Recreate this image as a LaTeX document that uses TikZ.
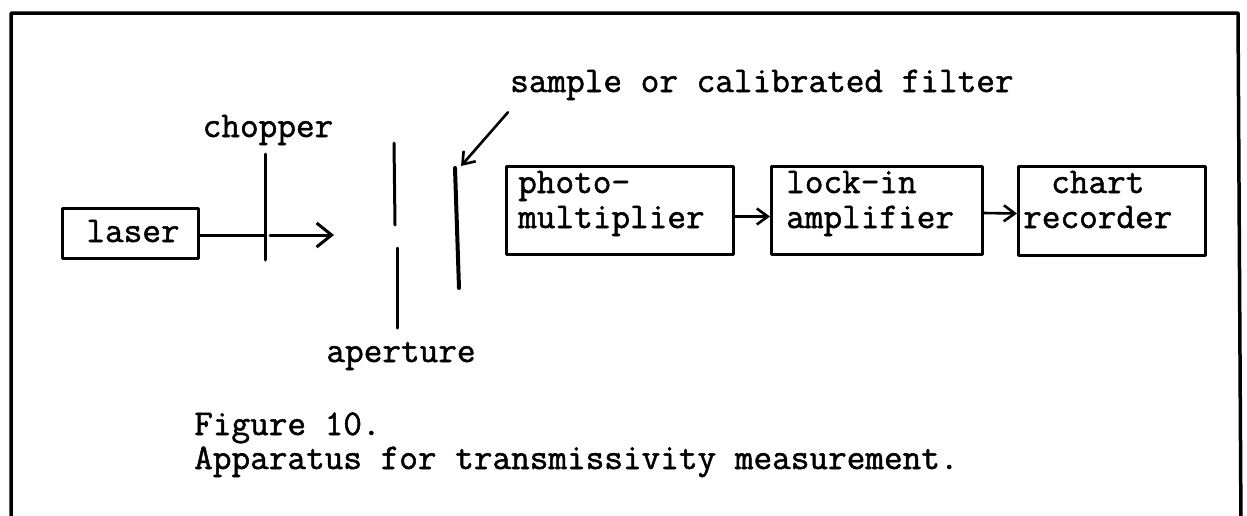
\documentclass[tikz,border=0pt]{standalone}
\usepackage{fontspec}
\setmonofont{Latin Modern Mono}[FakeBold=1.4]
\usetikzlibrary{arrows.meta}
\begin{document}
\begin{tikzpicture}[x=1pt,y=-1pt,line join=round,line cap=round,
  lbl/.style={font=\ttfamily\bfseries\fontsize{36.2}{35}\selectfont,inner sep=0pt},
  box/.style={draw,line width=3pt,inner sep=0pt},
  stroke/.style={line width=3pt},
  barb/.style={line width=2.6pt,-{Straight Barb[length=11pt,width=16pt]}},
  bigbarb/.style={line width=3pt,-{Straight Barb[length=15pt,width=24pt]}}]
\clip (0,0) rectangle (1247,515);
\fill[white] (0,0) rectangle (1247,515);

% open frame (bottom edge lies below the page)
\draw[line width=3.5pt] (11,530) -- (11,13) -- (1238,13) -- (1241,530);

% boxes
\node[box,minimum width=136pt,minimum height=50pt] (laser) at (130.5,233.5) {};
\node[box,minimum width=227pt,minimum height=88pt] (pm) at (620,210.5) {};
\node[box,minimum width=211pt,minimum height=88pt] (lockin) at (877,210.5) {};
\node[box,minimum width=187pt,minimum height=89pt] (chart) at (1112,211) {};

% box texts
\node[lbl,anchor=base] (lasertxt) at (133,242) {laser};
\node[lbl,anchor=base west] (pm1) at (518,193) {photo-};
\node[lbl,anchor=base west] (pm2) at (518,228) {multiplier};
\node[lbl,anchor=base west] (li1) at (786,193) {lock-in};
\node[lbl,anchor=base west] (li2) at (786,228) {amplifier};
\node[lbl,anchor=base west] (ch1) at (1051,193) {chart};
\node[lbl,anchor=base west] (ch2) at (1023,228) {recorder};

% chopper blade and aperture plates
\coordinate (chopT) at (265,154);
\coordinate (chopB) at (265,260);
\draw[stroke] (chopT) -- (chopB);
\coordinate (apT1) at (394,143);
\coordinate (apT2) at (395,225);
\coordinate (apB1) at (397,248);
\coordinate (apB2) at (397,328);
\draw[stroke] (apT1) -- (apT2);
\draw[stroke] (apB1) -- (apB2);
% sample / filter plate
\coordinate (sampT) at (455,168);
\coordinate (sampB) at (459,288);
\draw[line width=4pt] (sampT) -- (sampB);

% labels
\node[lbl,anchor=base] (choplbl) at (268,137) {chopper};
\node[lbl,anchor=base] (aplbl) at (401,362) {aperture};
\node[lbl,anchor=base west] (samplbl) at (510,92) {sample or calibrated filter};
\node[lbl,anchor=base west] (fig) at (194,435) {Figure 10.};
\node[lbl,anchor=base west] (cap) at (194,469) {Apparatus for transmissivity measurement.};

% beam
\coordinate (beamEnd) at (334,235);
\draw[stroke] ([yshift=-1.5pt]laser.east) -- ([yshift=-1.5pt]laser.east -| chopT);
\draw[bigbarb] ([xshift=5pt,yshift=-1.5pt]laser.east -| chopT) -- (beamEnd);

% signal chain
\draw[barb] ([yshift=-6pt]pm.east) -- ([yshift=-6pt]lockin.west);
\draw[barb] ([yshift=-2.5pt]lockin.east) -- ([yshift=-2.5pt]chart.west);

% pointer to the sample plate
\coordinate (sampTip) at (461,166);
\draw[barb] ([xshift=-2pt,yshift=-12pt]samplbl.south west) -- (sampTip);
\end{tikzpicture}
\end{document}
